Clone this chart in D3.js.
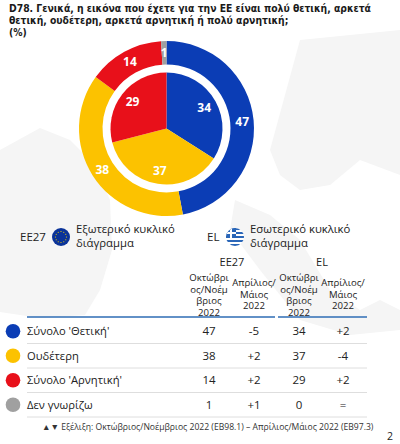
<!DOCTYPE html>
<html>
<head>
<meta charset="utf-8">
<script src="https://cdn.jsdelivr.net/npm/d3@7"></script>
<style>
  body { margin: 0; background: #fff; }
  svg { display: block; }
</style>
</head>
<body>
<script>
const width = 400, height = 444;

// data
const categories = ["Σύνολο 'Θετική'", "Ουδέτερη", "Σύνολο 'Αρνητική'", "Δεν γνωρίζω"];
const eu27Values = [47, 38, 14, 1];
const eu27Change = ["-5", "+2", "+2", "+1"];
const elValues = [34, 37, 29, 0];
const elChange = ["+2", "-4", "+2", "="];
const colors = ["#0b3db5", "#fcc200", "#e8101a", "#a0a0a0"];

const titleLines = [
  "D78. Γενικά, η εικόνα που έχετε για την ΕΕ είναι πολύ θετική, αρκετά",
  "θετική, ουδέτερη, αρκετά αρνητική ή πολύ αρνητική;",
  "(%)"
];

const svg = d3.select("body").append("svg")
    .attr("width", width)
    .attr("height", height);

// faint map in background
const land = svg.append("g").attr("fill", "#f5f5f5");
land.append("path")
    .attr("d", "M0,150 L40,128 L70,140 L95,165 L110,200 L112,250 L100,290 L85,315 L40,318 L0,312 Z");
land.append("path")
    .attr("d", "M300,40 L400,30 L400,175 L360,160 L330,185 L300,190 L280,175 L270,150 Z");
land.append("path")
    .attr("d", "M235,200 L270,215 L300,240 L330,290 L360,310 L380,300 L400,310 L400,330 L350,335 L300,320 L260,270 L230,230 Z");

// title
svg.append("g").selectAll("text")
  .data(titleLines)
  .join("text")
    .attr("x", 9)
    .attr("y", (d, i) => 12 + i * 12)
    .attr("font-family", "DejaVu Sans Condensed")
    .attr("font-weight", "bold")
    .attr("font-size", 10.3)
    .attr("fill", "#1a1a1a")
    .text(d => d);

// donuts
const cx = 166.5, cy = 128.5;
const pie = d3.pie().sort(null).value(d => d);
const outerArc = d3.arc().innerRadius(64).outerRadius(87.5);
const innerArc = d3.arc().innerRadius(0).outerRadius(56);
const outerLabel = d3.arc().innerRadius(76).outerRadius(76);
const innerLabel = d3.arc().innerRadius(43).outerRadius(43);

const donut = svg.append("g").attr("transform", `translate(${cx},${cy})`);

donut.append("circle").attr("r", 64).attr("fill", "#fff");

donut.selectAll("path.outer")
  .data(pie(eu27Values))
  .join("path")
    .attr("class", "outer")
    .attr("d", outerArc)
    .attr("fill", (d, i) => colors[i]);

donut.selectAll("path.inner")
  .data(pie(elValues))
  .join("path")
    .attr("class", "inner")
    .attr("d", innerArc)
    .attr("fill", (d, i) => colors[i]);

donut.selectAll("text.outer")
  .data(pie(eu27Values))
  .join("text")
    .attr("class", "outer")
    .attr("transform", d => `translate(${outerLabel.centroid(d)})`)
    .attr("text-anchor", "middle")
    .attr("dy", "0.36em")
    .attr("font-family", "Open Sans")
    .attr("font-weight", "bold")
    .attr("font-size", 12)
    .attr("fill", "#fff")
    .text(d => d.value);

donut.selectAll("text.inner")
  .data(pie(elValues).filter(d => d.value > 0))
  .join("text")
    .attr("class", "inner")
    .attr("transform", d => `translate(${innerLabel.centroid(d)})`)
    .attr("text-anchor", "middle")
    .attr("dy", "0.36em")
    .attr("font-family", "Open Sans")
    .attr("font-weight", "bold")
    .attr("font-size", 12)
    .attr("fill", "#fff")
    .text(d => d.value);

// legend: EE27 / EL
const font = "Open Sans";

svg.append("text")
    .attr("x", 20).attr("y", 241)
    .attr("font-family", font).attr("font-size", 11.5).attr("fill", "#222")
    .text("EE27");

const eu = svg.append("g").attr("transform", "translate(61,237)");
eu.append("circle").attr("r", 9).attr("fill", "#0a3399");
eu.selectAll("circle.star")
  .data(d3.range(12))
  .join("circle")
    .attr("class", "star")
    .attr("cx", d => 5.5 * Math.sin(d * Math.PI / 6))
    .attr("cy", d => -5.5 * Math.cos(d * Math.PI / 6))
    .attr("r", 0.6)
    .attr("fill", "#f5d300");

svg.append("g").selectAll("text")
  .data(["Εξωτερικό κυκλικό", "διάγραμμα"])
  .join("text")
    .attr("x", 76).attr("y", (d, i) => 233 + i * 14)
    .attr("font-family", font).attr("font-size", 11.3).attr("fill", "#222")
    .text(d => d);

svg.append("text")
    .attr("x", 207).attr("y", 241)
    .attr("font-family", font).attr("font-size", 11.5).attr("fill", "#222")
    .text("EL");

svg.append("clipPath").attr("id", "grclip")
  .append("circle").attr("cx", 235).attr("cy", 237).attr("r", 9);
const grFlag = svg.append("g").attr("clip-path", "url(#grclip)");
grFlag.selectAll("rect.stripe")
  .data(d3.range(9))
  .join("rect")
    .attr("class", "stripe")
    .attr("x", 226).attr("y", d => 228 + d * 2)
    .attr("width", 18).attr("height", 2)
    .attr("fill", d => d % 2 === 0 ? "#2a66b8" : "#fff");
grFlag.append("rect").attr("x", 226).attr("y", 228).attr("width", 10).attr("height", 10).attr("fill", "#2a66b8");
grFlag.append("rect").attr("x", 226).attr("y", 232).attr("width", 10).attr("height", 2).attr("fill", "#fff");
grFlag.append("rect").attr("x", 230).attr("y", 228).attr("width", 2).attr("height", 10).attr("fill", "#fff");

svg.append("g").selectAll("text")
  .data(["Εσωτερικό κυκλικό", "διάγραμμα"])
  .join("text")
    .attr("x", 250).attr("y", (d, i) => 233 + i * 14)
    .attr("font-family", font).attr("font-size", 11.3).attr("fill", "#222")
    .text(d => d);

// table
const colX = [209, 254, 299, 343];
const groupHeaders = [{ t: "EE27", x: 232 }, { t: "EL", x: 322 }];
const colHeaders = [
  ["Οκτώβρι", "ος/Νοέμ", "βριος", "2022"],
  ["Απρίλιος/", "Μάιος", "2022"],
  ["Οκτώβρι", "ος/Νοέμ", "βριος", "2022"],
  ["Απρίλιος/", "Μάιος", "2022"]
];

svg.append("g").selectAll("text")
  .data(groupHeaders)
  .join("text")
    .attr("x", d => d.x).attr("y", 266)
    .attr("text-anchor", "middle")
    .attr("font-family", font).attr("font-size", 11).attr("fill", "#222")
    .text(d => d.t);

colHeaders.forEach((lines, c) => {
  const top = lines.length === 4 ? 281 : 286;
  svg.append("g").selectAll("text")
    .data(lines)
    .join("text")
      .attr("x", colX[c]).attr("y", (d, i) => top + i * 11.7)
      .attr("text-anchor", "middle")
      .attr("font-family", font).attr("font-size", 9.6).attr("fill", "#222")
      .text(d => d);
});

svg.append("line")
    .attr("x1", 27).attr("x2", 275).attr("y1", 317).attr("y2", 317)
    .attr("stroke", "#2e6db4").attr("stroke-width", 1.5);
svg.append("line")
    .attr("x1", 278).attr("x2", 367).attr("y1", 317).attr("y2", 317)
    .attr("stroke", "#2e6db4").attr("stroke-width", 1.5);

const y = d3.scaleBand().domain(categories).range([319, 417]);

const rows = svg.append("g").selectAll("g")
  .data(categories)
  .join("g")
    .attr("transform", d => `translate(0,${y(d) + y.bandwidth() / 2})`);

rows.append("line")
    .attr("x1", 27).attr("x2", 367)
    .attr("y1", y.bandwidth() / 2).attr("y2", y.bandwidth() / 2)
    .attr("stroke", "#dedede").attr("stroke-width", 1);

rows.append("circle")
    .attr("cx", 13).attr("r", 7.3)
    .attr("fill", (d, i) => colors[i]);

rows.append("text")
    .attr("x", 27).attr("dy", "0.36em")
    .attr("font-family", font).attr("font-size", 11.2).attr("fill", "#222")
    .text(d => d);

const cells = (arr, c) => rows.append("text")
    .attr("x", colX[c]).attr("dy", "0.36em")
    .attr("text-anchor", "middle")
    .attr("font-family", font).attr("font-size", 11.5).attr("fill", "#222")
    .text((d, i) => arr[i]);

cells(eu27Values, 0);
cells(eu27Change, 1);
cells(elValues, 2);
cells(elChange, 3);

// footnote
svg.append("text")
    .attr("x", 42).attr("y", 430)
    .attr("font-family", font).attr("font-size", 8.6).attr("fill", "#333")
    .text("▲▼ Εξέλιξη: Οκτώβριος/Νοέμβριος 2022 (EB98.1) – Απρίλιος/Μάιος 2022 (EB97.3)");

svg.append("text")
    .attr("x", 387).attr("y", 440)
    .attr("font-family", font).attr("font-size", 10.5).attr("fill", "#222")
    .text("2");
</script>
</body>
</html>
